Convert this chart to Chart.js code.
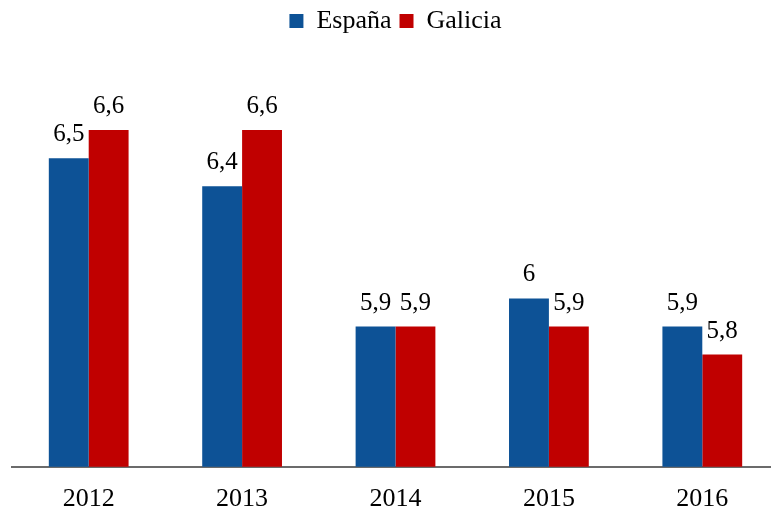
<!DOCTYPE html>
<html>
<head>
<meta charset="utf-8">
<script src="https://cdn.jsdelivr.net/npm/chart.js@4"></script>
<style>
  html, body { margin: 0; padding: 0; background: #fff; overflow: hidden; }
  #wrap { width: 771px; height: 514px; overflow: hidden; }
</style>
</head>
<body>
<div id="wrap"><canvas id="grafico" width="780" height="533"></canvas></div>
<script>
const anos = ['2012', '2013', '2014', '2015', '2016'];
const espana = [6.5, 6.4, 5.9, 6.0, 5.9];
const galicia = [6.6, 6.6, 5.9, 5.9, 5.8];
const yMin = 5.4;
const yMax = 6.8;

const fuente = '"Liberation Serif", "Times New Roman", serif';

// etiquetas de valor encima de cada barra (coma decimal)
const etiquetas = {
  id: 'etiquetas',
  afterDatasetsDraw(chart) {
    const ctx = chart.ctx;
    ctx.save();
    ctx.font = '25px ' + fuente;
    ctx.fillStyle = '#000';
    ctx.textAlign = 'center';
    ctx.textBaseline = 'alphabetic';
    chart.data.datasets.forEach(function(ds, i) {
      chart.getDatasetMeta(i).data.forEach(function(bar, j) {
        const txt = String(ds.data[j]).replace('.', ',');
        ctx.fillText(txt, bar.x, bar.y - 17);
      });
    });
    ctx.restore();
  }
};

// espacio extra bajo la leyenda
const margenLeyenda = {
  id: 'margenLeyenda',
  beforeInit(chart) {
    const fit = chart.legend.fit;
    chart.legend.fit = function() {
      fit.bind(chart.legend)();
      this.height += 30;
    };
  }
};

new Chart(document.getElementById('grafico').getContext('2d'), {
  type: 'bar',
  data: {
    labels: anos,
    datasets: [
      { label: 'España', data: espana, backgroundColor: '#0D5296', categoryPercentage: 0.52, barPercentage: 1.0 },
      { label: 'Galicia', data: galicia, backgroundColor: '#C00000', categoryPercentage: 0.52, barPercentage: 1.0 }
    ]
  },
  options: {
    responsive: false,
    animation: false,
    layout: { padding: { left: 12, right: 1, top: 0, bottom: 1 } },
    plugins: {
      legend: {
        display: true,
        position: 'top',
        labels: {
          boxWidth: 14,
          boxHeight: 14,
          padding: 8,
          color: '#000',
          font: { family: fuente, size: 26 }
        }
      },
      tooltip: { enabled: false }
    },
    scales: {
      x: {
        grid: { display: false, drawTicks: false },
        border: { display: true, color: '#6b6b6b', width: 2 },
        ticks: { color: '#000', padding: 17, font: { family: fuente, size: 26 } }
      },
      y: {
        display: false,
        min: yMin,
        max: yMax
      }
    }
  },
  plugins: [etiquetas, margenLeyenda]
});
</script>
</body>
</html>
